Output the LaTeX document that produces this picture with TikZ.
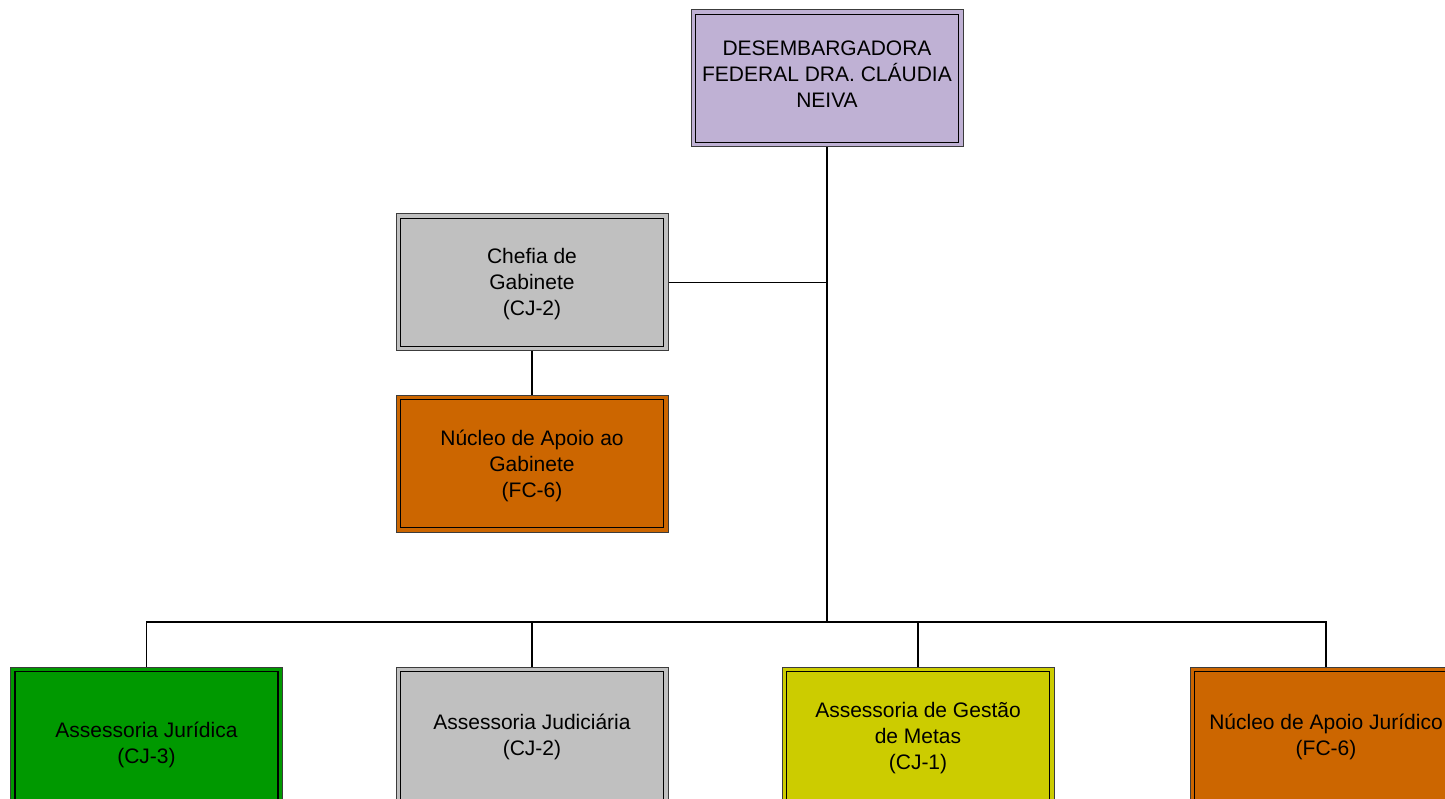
\documentclass[tikz,border=0pt]{standalone}
\usepackage{fontspec}
\setmainfont{Liberation Sans}
\definecolor{cpurple}{RGB}{191,177,212}
\definecolor{cgray}{RGB}{192,192,192}
\definecolor{corange}{RGB}{204,102,0}
\definecolor{cgreen}{RGB}{0,153,0}
\definecolor{cyellow}{RGB}{204,204,0}
\definecolor{cedge}{RGB}{60,60,60}
\tikzset{
  orgbox/.style={rectangle, fill=#1, draw=cedge, line width=1pt,
    minimum width=272pt, minimum height=137pt, inner sep=0pt},
  innerline/.style={black, line width=1.6pt},
  txt/.style={align=center, inner sep=0pt, font=\fontsize{21}{26}\selectfont},
  conn/.style={line width=1.4pt, black}
}
\begin{document}
\begin{tikzpicture}[x=1pt,y=-1pt]
\useasboundingbox (0,0) rectangle (1445,799);
\clip (0,0) rectangle (1445,799);
% boxes
\node[orgbox=cpurple] (top) at (827,78.5) {};
\node[orgbox=cgray] (chefia) at (532,282.5) {};
\node[orgbox=corange] (nucgab) at (532,463.5) {};
\node[orgbox=cgreen] (juridica) at (146.5,735.5) {};
\node[orgbox=cgray] (judiciaria) at (532,735.5) {};
\node[orgbox=cyellow] (metas) at (918,735.5) {};
\node[orgbox=corange] (nucjur) at (1326,735.5) {};
\foreach \n in {top,chefia,nucgab,juridica,judiciaria,metas,nucjur}
  \draw[innerline] ([shift={(5pt,-5pt)}]\n.north west) rectangle ([shift={(-5pt,5pt)}]\n.south east);
% texts
\node[txt] (ttop) at (827,74.5) {DESEMBARGADORA\\FEDERAL DRA. CLÁUDIA\\NEIVA};
\node[txt] (tchefia) at (532,284.5) {Chefia de\\Gabinete\\(CJ-2)};
\node[txt] (tnucgab) at (532,465.5) {Núcleo de Apoio ao\\Gabinete\\(FC-6)};
\node[txt] (tjuridica) at (146.5,745) {Assessoria Jurídica\\(CJ-3)};
\node[txt] (tjudiciaria) at (532,737) {Assessoria Judiciária\\(CJ-2)};
\node[txt] (tmetas) at (918,738) {Assessoria de Gestão\\de Metas\\(CJ-1)};
\node[txt] (tnucjur) at (1326,737) {Núcleo de Apoio Jurídico\\(FC-6)};
% connectors
\coordinate (bus) at (827,622);
\draw[conn] (top.south) -- (bus);
\draw[conn] (chefia.east) -- (chefia.east -| top.south);
\draw[conn] (chefia.south) -- (nucgab.north);
\draw[conn] (juridica.north) -- (juridica.north |- bus) -- (nucjur.north |- bus) -- (nucjur.north);
\draw[conn] (judiciaria.north) -- (judiciaria.north |- bus);
\draw[conn] (metas.north) -- (metas.north |- bus);
\end{tikzpicture}
\end{document}
